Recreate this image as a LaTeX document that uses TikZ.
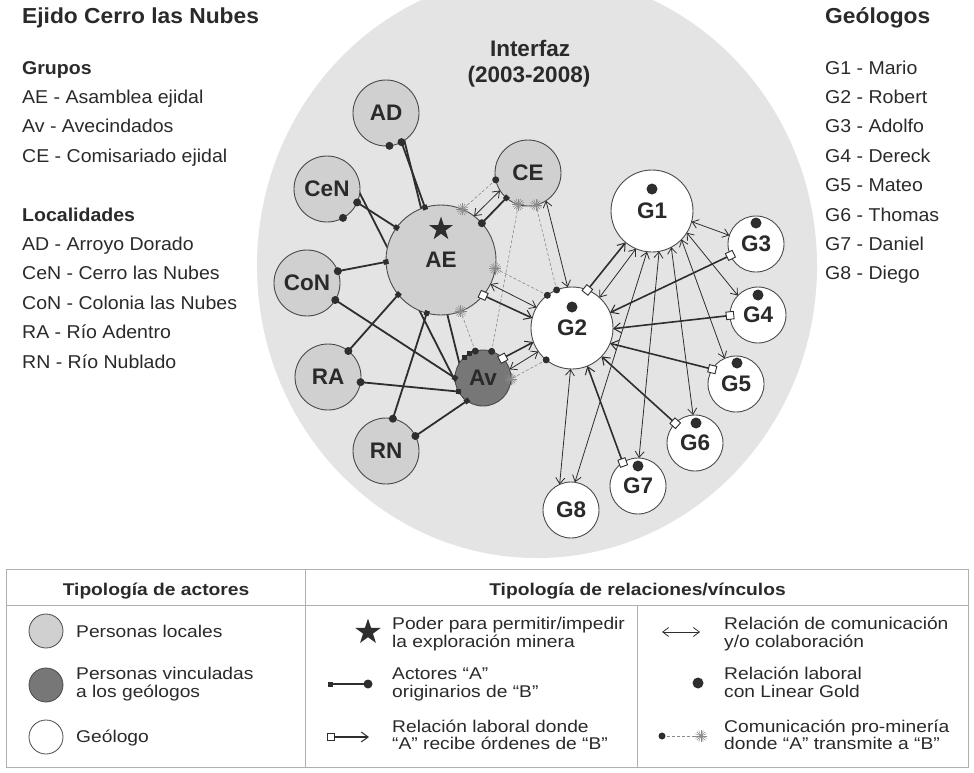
\documentclass[tikz,border=0pt]{standalone}
\usepackage{fontspec}
\setmainfont{Liberation Sans}
\newfontfamily\sidefont[FakeStretch=1.05]{Liberation Sans}
\newfontfamily\legfont[FakeStretch=1.13]{Liberation Sans}
\usetikzlibrary{arrows.meta,shapes.geometric}
\definecolor{txt}{HTML}{2A2A2A}
\definecolor{disk}{HTML}{E4E4E4}
\definecolor{localfill}{HTML}{D0D0D0}
\definecolor{avfill}{HTML}{777777}
\definecolor{edgecol}{HTML}{4A4A4A}
\definecolor{lnk}{HTML}{2E2E2E}
\definecolor{dashcol}{HTML}{8A8A8A}
\definecolor{framecol}{HTML}{B0B0B0}
\tikzset{
 actor/.style={circle, draw=edgecol, line width=0.9pt, inner sep=0pt, outer sep=0pt, text=txt, font=\fontsize{22.5}{22.5}\selectfont\bfseries},
 locnode/.style={actor, fill=localfill, minimum size=66pt},
 avnode/.style={actor, fill=avfill, minimum size=56pt},
 aenode/.style={actor, fill=localfill, minimum size=110pt},
 bigeo/.style={actor, fill=white, minimum size=82pt},
 smgeo/.style={actor, fill=white, minimum size=56pt},
 golddot/.style={circle, fill=lnk, inner sep=0pt, minimum size=11pt},
 powerstar/.style={star, star points=5, star point ratio=2.6, fill=lnk, inner sep=0pt, minimum size=25pt},
 orig/.style={draw=lnk, line width=1.8pt},
 bdot/.style={circle, fill=lnk, inner sep=0pt, outer sep=0pt, minimum size=8pt},
 ssq/.style={rectangle, fill=lnk, inner sep=0pt, minimum size=5pt},
 osq/.style={rectangle, draw=lnk, fill=white, line width=0.9pt, inner sep=0pt, minimum size=7.5pt},
 labor/.style={draw=lnk, line width=1.6pt, -{Straight Barb[length=7pt,width=10pt,line width=1pt]}},
 comm/.style={draw=lnk, line width=0.8pt, {Straight Barb[length=6pt,width=9pt]}-{Straight Barb[length=6pt,width=9pt]}},
 prom/.style={draw=dashcol, line width=0.6pt, dash pattern=on 3pt off 2pt},
 sdot/.style={circle, fill=lnk, inner sep=0pt, minimum size=7pt},
 sidetxt/.style={anchor=base west, text=txt, inner sep=0pt, font=\sidefont\fontsize{18.6}{18.6}\selectfont},
 sidehead/.style={anchor=base west, text=txt, inner sep=0pt, font=\sidefont\fontsize{18.6}{18.6}\selectfont\bfseries},
 sidetitle/.style={anchor=base west, text=txt, inner sep=0pt, font=\sidefont\fontsize{21.7}{21.7}\selectfont\bfseries},
 legtxt/.style={anchor=base west, text=txt, inner sep=0pt, font=\legfont\fontsize{17}{17}\selectfont},
 leghead/.style={anchor=base, text=txt, inner sep=0pt, font=\legfont\fontsize{17}{17}\selectfont\bfseries},
 framel/.style={draw=framecol, line width=1pt},
 pics/sb/.style={code={\foreach \a in {0,22.5,...,157.5}{\draw[dashcol, line width=0.5pt] (\a:6) -- (\a+180:6);}}},
}
\begin{document}
\begin{tikzpicture}[x=1pt,y=-1pt]
\useasboundingbox (0,0) rectangle (974,773);
\fill[white] (0,0) rectangle (974,773);
\begin{scope}
\clip (0,0) rectangle (974,773);
\fill[disk] (537,266) ellipse [x radius=280, y radius=292];
\end{scope}

% side texts
\node[sidetitle] (ttl) at (22,23.3) {Ejido Cerro las Nubes};
\node[sidehead] (grp) at (22,74.1) {Grupos};
\node[sidetxt] (tae) at (22,103.5) {AE - Asamblea ejidal};
\node[sidetxt] (tav) at (22,132.9) {Av - Avecindados};
\node[sidetxt] (tce) at (22,162.3) {CE - Comisariado ejidal};
\node[sidehead] (lcl) at (22,221.1) {Localidades};
\node[sidetxt] (tad) at (22,250.5) {AD - Arroyo Dorado};
\node[sidetxt] (tcen) at (22,279.9) {CeN - Cerro las Nubes};
\node[sidetxt] (tcon) at (22,309.3) {CoN - Colonia las Nubes};
\node[sidetxt] (tra) at (22,338.7) {RA - Río Adentro};
\node[sidetxt] (trn) at (22,368.1) {RN - Río Nublado};

\node[sidetitle] (geo) at (825,23.3) {Geólogos};
\node[sidetxt] (tg1) at (825,74.1) {G1 - Mario};
\node[sidetxt] (tg2) at (825,103.5) {G2 - Robert};
\node[sidetxt] (tg3) at (825,132.9) {G3 - Adolfo};
\node[sidetxt] (tg4) at (825,162.3) {G4 - Dereck};
\node[sidetxt] (tg5) at (825,191.7) {G5 - Mateo};
\node[sidetxt] (tg6) at (825,221.1) {G6 - Thomas};
\node[sidetxt] (tg7) at (825,250.5) {G7 - Daniel};
\node[sidetxt] (tg8) at (825,279.9) {G8 - Diego};

\node[anchor=base, inner sep=0pt, text=txt, font=\fontsize{22.5}{22.5}\selectfont\bfseries] (intf) at (530,57) {Interfaz};
\node[anchor=base, inner sep=0pt, text=txt, font=\fontsize{22.5}{22.5}\selectfont\bfseries] (yrs) at (529,83) {(2003-2008)};

% lines passing behind AE
\path (386,113) ++(-84:33) coordinate (adb) (483,378) ++(120:28) coordinate (avb);
\path (327,189) ++(-61:33) coordinate (cenb) (483,378) ++(132:28) coordinate (avc);
\draw[orig] (adb) -- (avb);
\draw[orig] (cenb) -- (avc);

% actors
\node[locnode] (AD) at (386,113) {AD};
\node[locnode] (CeN) at (327,189) {CeN};
\node[locnode] (CoN) at (307,283) {CoN};
\node[locnode] (RA) at (328,377) {RA};
\node[locnode] (RN) at (386,451) {RN};
\node[aenode] (AE) at (441,260) {AE};
\node[locnode] (CE) at (528,173) {CE};
\node[avnode] (Av) at (483,378) {Av};
\node[bigeo] (G1) at (652,211) {G1};
\node[bigeo] (G2) at (572,328) {G2};
\node[smgeo] (G3) at (756,244) {G3};
\node[smgeo] (G4) at (758,315) {G4};
\node[smgeo] (G5) at (736,384) {G5};
\node[smgeo] (G6) at (695,443) {G6};
\node[smgeo] (G7) at (638,486) {G7};
\node[smgeo] (G8) at (571,510) {G8};
\node[powerstar] (aestar) at (441,229) {};
\node[golddot] (d1) at (652,189) {};
\node[golddot] (d2) at (572,307) {};
\node[golddot] (d3) at (756,223) {};
\node[golddot] (d4) at (758,295) {};
\node[golddot] (d5) at (737,363) {};
\node[golddot] (d6) at (696,423) {};
\node[golddot] (d7) at (638,466) {};

% markers of lines behind AE
\node[bdot] at (AD.-84) {};
\node[bdot] at (CeN.-61) {};
\node[ssq] at (Av.120) {};
\node[ssq] at (Av.132) {};

% localities -> AE / Av
\draw[orig] (AD.-62) -- (AE.107) node[pos=0,bdot]{} node[pos=1,ssq,sloped]{};
\draw[orig] (CeN.-24) -- (AE.144) node[pos=0,bdot]{} node[pos=1,ssq,sloped]{};
\draw[orig] (CoN.21) -- (AE.182) node[pos=0,bdot]{} node[pos=1,ssq,sloped]{};
\draw[orig] (RA.52) -- (AE.219) node[pos=0,bdot]{} node[pos=1,ssq,sloped]{};
\draw[orig] (RN.78) -- (AE.255) node[pos=0,bdot]{} node[pos=1,ssq,sloped]{};
\draw[orig] (CoN.-31) -- (Av.180) node[pos=0,bdot]{} node[pos=1,ssq,sloped]{};
\draw[orig] (RA.-9) -- (Av.209) node[pos=0,bdot]{} node[pos=1,ssq,sloped]{};
\draw[orig] (RN.27) -- (Av.235) node[pos=0,bdot]{} node[pos=1,ssq,sloped]{};

% CE - AE
\draw[orig] (CE.229) -- (AE.42) node[pos=0,ssq,sloped]{} node[pos=1,bdot]{};
\draw[comm] (CE.212) -- (AE.53);
\draw[prom] (CE.192) -- (AE.67) node[pos=0,sdot]{};
\pic at (AE.67) {sb};

% pro-mining communications
\draw[prom] (G2.112) -- (CE.284) node[pos=0,sdot]{};
\pic at (CE.284) {sb};
\draw[prom] (Av.72) -- (CE.253) node[pos=0,sdot]{};
\pic at (CE.253) {sb};
\draw[prom] (G2.127) -- (AE.-9) node[pos=0,sdot]{};
\pic at (AE.-9) {sb};
\draw[prom] (Av.106) -- (AE.-69) node[pos=0,sdot]{};
\pic at (AE.-69) {sb};
\draw[prom] (G2.231) -- (Av.-2) node[pos=0,sdot]{};
\pic at (Av.-2) {sb};

% G2 with CE, AE, Av
\draw[comm] (CE.303) -- (G2.96);
\draw[comm] (AE.-26) -- (G2.150);
\draw[labor] (AE.-40) -- (G2.166) node[pos=0,osq,sloped]{};
\draw[labor] (Av.45) -- (G2.200) node[pos=0,osq,sloped]{};
\draw[comm] (Av.18) -- (G2.215);

% geologists
\draw[labor] (G2.68) -- (G1.230) node[pos=0,osq,sloped]{};
\draw[comm] (G1.247) -- (G2.48);
\draw[labor] (G3.204) -- (G2.22) node[pos=0,osq,sloped]{};
\draw[labor] (G4.181) -- (G2.-1) node[pos=0,osq,sloped]{};
\draw[labor] (G5.148) -- (G2.-22) node[pos=0,osq,sloped]{};
\draw[labor] (G6.135) -- (G2.-44) node[pos=0,osq,sloped]{};
\draw[labor] (G7.123) -- (G2.-68) node[pos=0,osq,sloped]{};
\draw[comm] (G2.-92) -- (G8.114);
\draw[comm] (G1.-15) -- (G3.162);
\draw[comm] (G1.-32) -- (G4.136);
\draw[comm] (G1.-44) -- (G5.114);
\draw[comm] (G1.-62) -- (G6.94);
\draw[comm] (G1.-80) -- (G7.88);
\draw[comm] (G1.-97) -- (G8.82);

% legend frame
\draw[framel] (6,569) rectangle (968,767);
\draw[framel] (6,605) -- (968,605);
\draw[framel] (305,569) -- (305,767);
\draw[framel] (637,605) -- (637,767);
\node[leghead] (lh1) at (156,595) {Tipología de actores};
\node[leghead] (lh2) at (637.5,595) {Tipología de relaciones/vínculos};

% legend column 1
\node[actor, fill=localfill, minimum size=34pt, line width=0.8pt] (lc1) at (46,631) {};
\node[actor, fill=avfill, minimum size=34pt, line width=0.8pt] (lc2) at (46,685) {};
\node[actor, fill=white, minimum size=34pt, line width=0.8pt] (lc3) at (46,737) {};
\node[legtxt] (l1) at (76,637) {Personas locales};
\node[legtxt] (l2a) at (76,679) {Personas vinculadas};
\node[legtxt] (l2b) at (76,697) {a los geólogos};
\node[legtxt] (l3) at (76,742) {Geólogo};

% legend column 2
\node[powerstar, minimum size=27pt] (lstar) at (368,632) {};
\coordinate (oa) at (330,684);
\coordinate (ob) at (368,684);
\draw[orig, line width=1.5pt] (oa) -- (ob) node[pos=0,ssq]{} node[pos=1,bdot,minimum size=9pt]{};
\coordinate (la) at (331,737);
\coordinate (lb) at (369,737);
\draw[labor, line width=1.2pt] (la) -- (lb) node[pos=0,osq,minimum size=6.5pt]{};
\node[legtxt] (m1a) at (392,629) {Poder para permitir/impedir};
\node[legtxt] (m1b) at (392,647) {la exploración minera};
\node[legtxt] (m2a) at (392,679) {Actores “A”};
\node[legtxt] (m2b) at (392,697) {originarios de “B”};
\node[legtxt] (m3a) at (392,732) {Relación laboral donde};
\node[legtxt] (m3b) at (392,749) {“A” recibe órdenes de “B”};

% legend column 3
\coordinate (ca) at (662,632);
\coordinate (cb) at (700,632);
\draw[comm] (ca) -- (cb);
\node[golddot] (lgd) at (698,683) {};
\coordinate (pa) at (662,736);
\coordinate (pb) at (701,736);
\draw[prom] (pa) -- (pb) node[pos=0,sdot]{};
\pic at (pb) {sb};
\node[legtxt] (r1a) at (724,629) {Relación de comunicación};
\node[legtxt] (r1b) at (724,647) {y/o colaboración};
\node[legtxt] (r2a) at (724,679) {Relación laboral};
\node[legtxt] (r2b) at (724,697) {con Linear Gold};
\node[legtxt] (r3a) at (724,732) {Comunicación pro-minería};
\node[legtxt] (r3b) at (724,749) {donde “A” transmite a “B”};
\end{tikzpicture}
\end{document}
